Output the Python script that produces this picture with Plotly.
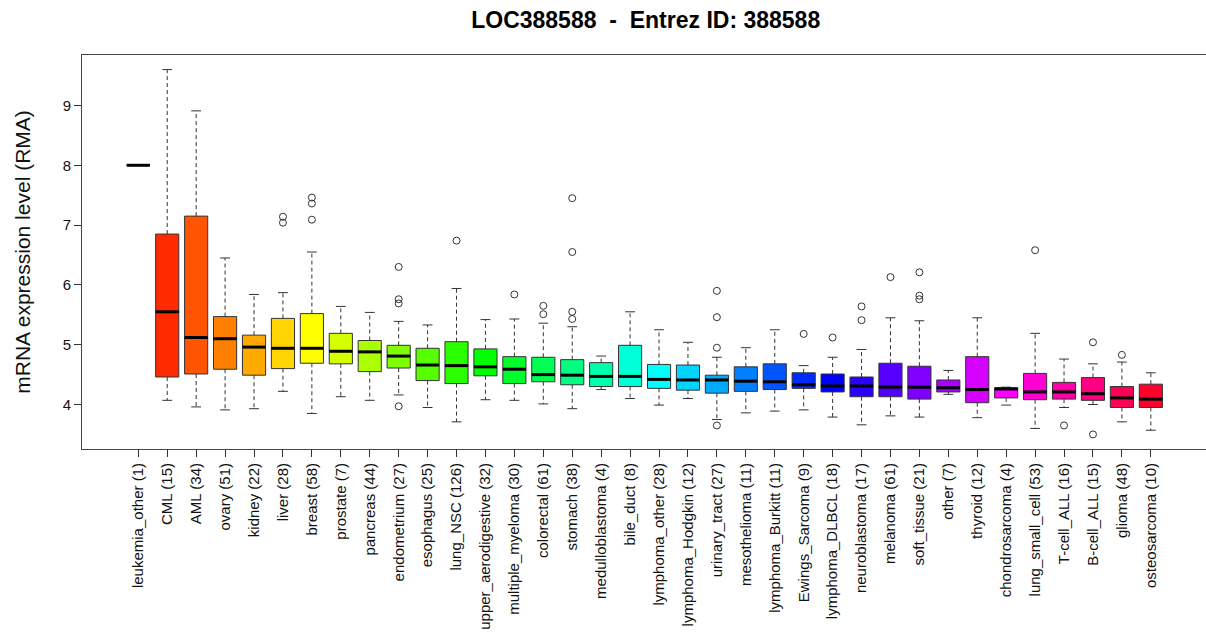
import colorsys
import plotly.graph_objects as go

categories = ["leukemia_other (1)", "CML (15)", "AML (34)", "ovary (51)", "kidney (22)", "liver (28)",
              "breast (58)", "prostate (7)", "pancreas (44)", "endometrium (27)", "esophagus (25)",
              "lung_NSC (126)", "upper_aerodigestive (32)", "multiple_myeloma (30)", "colorectal (61)",
              "stomach (38)", "medulloblastoma (4)", "bile_duct (8)", "lymphoma_other (28)",
              "lymphoma_Hodgkin (12)", "urinary_tract (27)", "mesothelioma (11)", "lymphoma_Burkitt (11)",
              "Ewings_Sarcoma (9)", "lymphoma_DLBCL (18)", "neuroblastoma (17)", "melanoma (61)",
              "soft_tissue (21)", "other (7)", "thyroid (12)", "chondrosarcoma (4)", "lung_small_cell (53)",
              "T-cell_ALL (16)", "B-cell_ALL (15)", "glioma (48)", "osteosarcoma (10)"]

lower = [8.00, 4.07, 3.96, 3.91, 3.93, 4.22, 3.85, 4.13, 4.07, 4.16, 3.95, 3.71, 4.08, 4.07, 4.01,
         3.93, 4.25, 4.10, 3.99, 4.10, 3.75, 3.86, 3.89, 3.91, 3.79, 3.66, 3.81, 3.79, 4.17, 3.78,
         3.99, 3.60, 3.95, 4.00, 3.71, 3.57]
q1 = [8.00, 4.46, 4.51, 4.59, 4.49, 4.60, 4.69, 4.68, 4.55, 4.61, 4.40, 4.35, 4.48, 4.35, 4.38,
      4.33, 4.30, 4.30, 4.27, 4.24, 4.19, 4.22, 4.25, 4.27, 4.21, 4.13, 4.13, 4.09, 4.21, 4.03,
      4.11, 4.08, 4.09, 4.07, 3.95, 3.95]
median = [8.00, 5.55, 5.12, 5.10, 4.96, 4.94, 4.94, 4.89, 4.88, 4.81, 4.66, 4.65, 4.63, 4.59, 4.50,
          4.49, 4.47, 4.47, 4.42, 4.41, 4.41, 4.39, 4.38, 4.33, 4.31, 4.31, 4.29, 4.29, 4.28, 4.25,
          4.26, 4.21, 4.21, 4.18, 4.11, 4.09]
q3 = [8.00, 6.85, 7.15, 5.47, 5.16, 5.44, 5.52, 5.19, 5.07, 4.99, 4.94, 5.05, 4.93, 4.80, 4.79,
      4.75, 4.70, 4.99, 4.67, 4.66, 4.49, 4.63, 4.68, 4.53, 4.51, 4.46, 4.69, 4.64, 4.41, 4.80,
      4.28, 4.52, 4.37, 4.45, 4.30, 4.34]
upper = [8.00, 9.60, 8.91, 6.45, 5.84, 5.87, 6.55, 5.64, 5.54, 5.39, 5.33, 5.94, 5.42, 5.43, 5.36,
         5.30, 4.81, 5.55, 5.25, 5.04, 4.79, 4.95, 5.25, 4.65, 4.79, 4.92, 5.45, 5.40, 4.57, 5.45,
         4.29, 5.19, 4.76, 4.68, 4.71, 4.53]
outliers = {
    5: [7.14, 7.04],
    6: [7.46, 7.36, 7.09],
    9: [6.30, 5.76, 5.69, 3.97],
    11: [6.74],
    13: [5.84],
    14: [5.65, 5.51],
    15: [7.45, 6.55, 5.55, 5.43],
    20: [5.90, 5.46, 4.95, 3.65],
    23: [5.18],
    24: [5.12],
    25: [5.64, 5.41],
    26: [6.13],
    27: [6.21, 5.82, 5.76],
    31: [6.58],
    32: [3.65],
    33: [5.04, 3.50],
    34: [4.83],
}
y_ticks = [4, 5, 6, 7, 8, 9]

n = len(categories)
xs = list(range(n))
colors = []
for i in range(n):
    r, g, b = colorsys.hsv_to_rgb(i / n, 1, 1)
    colors.append("rgb(%d,%d,%d)" % (round(r * 255), round(g * 255), round(b * 255)))

fig = go.Figure()
BW = 0.8
for i in xs:
    fig.add_trace(go.Box(
        x=[i], q1=[q1[i]], median=[median[i]], q3=[q3[i]],
        lowerfence=[q1[i]], upperfence=[q3[i]],
        width=BW, whiskerwidth=0, fillcolor=colors[i],
        line=dict(color="#333333", width=1), boxpoints=False,
        showlegend=False, hoverinfo="skip"))

# dashed whiskers
wx, wy = [], []
for i in xs:
    if upper[i] > q3[i]:
        wx += [i, i, None]
        wy += [q3[i], upper[i], None]
    if lower[i] < q1[i]:
        wx += [i, i, None]
        wy += [q1[i], lower[i], None]
fig.add_trace(go.Scatter(x=wx, y=wy, mode="lines", line=dict(color="#333333", width=1, dash="4px,3px"),
                         showlegend=False, hoverinfo="skip"))

# whisker caps
CH = 0.17
cx, cy = [], []
for i in xs:
    for v in (upper[i], lower[i]):
        cx += [i - CH, i + CH, None]
        cy += [v, v, None]
fig.add_trace(go.Scatter(x=cx, y=cy, mode="lines", line=dict(color="#333333", width=1),
                         showlegend=False, hoverinfo="skip"))

# medians
mx, my = [], []
for i in xs:
    mx += [i - BW / 2, i + BW / 2, None]
    my += [median[i], median[i], None]
fig.add_trace(go.Scatter(x=mx, y=my, mode="lines", line=dict(color="#000000", width=3),
                         showlegend=False, hoverinfo="skip"))

# outliers
ox, oy = [], []
for i, vals in outliers.items():
    for v in vals:
        ox.append(i)
        oy.append(v)
fig.add_trace(go.Scatter(x=ox, y=oy, mode="markers",
                         marker=dict(symbol="circle-open", size=7, color="#333333", line=dict(width=1)),
                         showlegend=False, hoverinfo="skip"))

FONT = "Liberation Sans, Arial, Helvetica, sans-serif"
fig.update_layout(
    width=1206, height=637,
    margin=dict(l=82, r=0, t=55, b=188),
    paper_bgcolor="white", plot_bgcolor="white",
    font=dict(family=FONT, color="#111111"),
    title=dict(text="<b>LOC388588\u00a0\u00a0-\u00a0\u00a0Entrez ID: 388588</b>", x=0.5354, xanchor="center",
               y=1 - 20 / 637, yanchor="middle", font=dict(size=23, family=FONT, color="#000000")),
    xaxis=dict(range=[-1.946, 36.907], tickmode="array", tickvals=xs, ticktext=categories,
               tickangle=-90, ticks="outside", ticklen=7, tickcolor="#333333",
               tickfont=dict(size=15, family=FONT, color="#111111"), automargin=False,
               showgrid=False, zeroline=False, showline=True, mirror=True,
               linecolor="#444444", linewidth=1),
    yaxis=dict(range=[3.256, 9.844], tickmode="array", tickvals=y_ticks,
               ticks="outside", ticklen=7, tickcolor="#333333", automargin=False,
               tickfont=dict(size=15, family=FONT, color="#111111"),
               title=dict(text="mRNA expression level (RMA)", font=dict(size=21, family=FONT, color="#111111"),
                          standoff=26),
               showgrid=False, zeroline=False, showline=True, mirror=False,
               linecolor="#444444", linewidth=1),
)

fig.write_html("out.html")
